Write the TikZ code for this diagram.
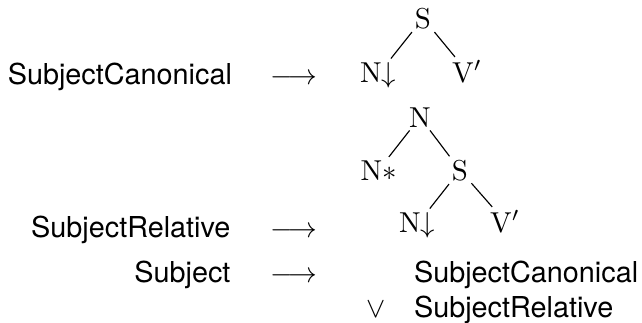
\documentclass[tikz,border=0pt]{standalone}
\usepackage{fontspec}
\newfontfamily\hv{TeX Gyre Heros}
\begin{document}
\begin{tikzpicture}[x=0.34722pt,y=-0.34722pt,
  every node/.style={inner sep=1pt, anchor=base},
  lab/.style={font=\hv, inner sep=0pt},
  edge/.style={line width=0.4pt}]
\useasboundingbox (0,0) rectangle (642,322);

% rule 1
\node[lab, anchor=base east] (lc) at (232.5,84) {SubjectCanonical};
\node (a1) at (294,84) {$\longrightarrow$};
\node (s1) at (423,28) {$\mathrm{S}$};
\node (n1) at (378,82) {$\mathrm{N}{\downarrow}$};
\node (v1) at (467,82) {$\mathrm{V}'$};
\draw[edge] (s1) -- (n1);
\draw[edge] (s1) -- (v1);

% rule 2
\node (t2n) at (420,127) {$\mathrm{N}$};
\node (t2ns) at (378.5,180) {$\mathrm{N}{*}$};
\node (t2s) at (460,180) {$\mathrm{S}$};
\node (t2nd) at (417,232) {$\mathrm{N}{\downarrow}$};
\node (t2v) at (505,232) {$\mathrm{V}'$};
\draw[edge] (t2n) -- (t2ns);
\draw[edge] (t2n) -- (t2s);
\draw[edge] (t2s) -- (t2nd);
\draw[edge] (t2s) -- (t2v);
\node[lab, anchor=base east] (lr) at (231,237) {SubjectRelative};
\node (a2) at (294,237) {$\longrightarrow$};

% rule 3
\node[lab, anchor=base east] (ls) at (231,282) {Subject};
\node (a3) at (294,282) {$\longrightarrow$};
\node[lab, anchor=base west] (rc) at (413.5,282) {SubjectCanonical};
\node (vee) at (376.5,317) {$\vee$};
\node[lab, anchor=base west] (rr) at (413.5,317) {SubjectRelative};
\end{tikzpicture}
\end{document}
